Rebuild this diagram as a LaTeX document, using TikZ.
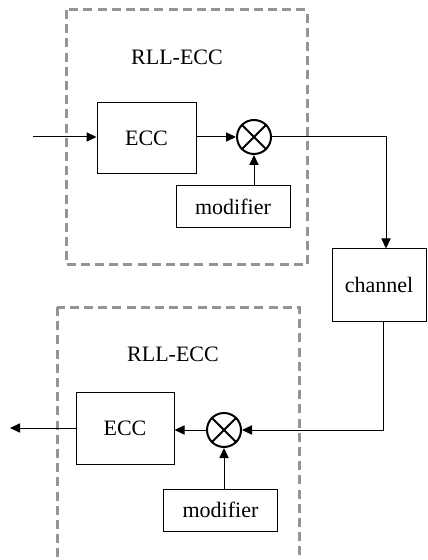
\documentclass[tikz,border=0pt]{standalone}
\usepackage{fontspec}
\setmainfont{Liberation Serif}
\usetikzlibrary{arrows.meta,positioning}

\begin{document}
\begin{tikzpicture}[x=0.5pt,y=-0.5pt,
            font=\fontsize{11}{13}\selectfont,
            >={Triangle[length=5pt,width=4.6pt]},
            every node/.style = {shape=rectangle, draw, line width=0.5pt,
                                 align=center, inner sep=0pt},
            blockbox/.style = {minimum width=49.5pt, minimum height=35.5pt},
            modbox/.style = {minimum width=57pt, minimum height=21pt},
            mixer/.style = {shape=circle, line width=1pt, minimum size=17pt},
            plain/.style = {draw=none},
            groupbox/.style = {draw=black!42, line width=1.5pt,
                               dash pattern=on 4.5pt off 2.6pt},
            wire/.style = {line width=0.5pt}]
    \useasboundingbox (0,0) rectangle (427,560);
    \clip (0,0) rectangle (427,560);
    % encoder side
    \draw[groupbox] (66,10) rectangle (307,265);
    \node[plain] (title1) at (177,57) {RLL-ECC};
    \node[blockbox] (ecc1) at (146.5,138) {ECC};
    \node[mixer] (mix1) at (254,137) {};
    \draw[line width=1pt] (mix1.45) -- (mix1.225) (mix1.135) -- (mix1.315);
    \node[modbox] (mod1) at (233,207) {modifier};
    \coordinate (in) at (33,137);
    % channel
    \node[minimum width=47pt, minimum height=36pt] (chan) at (379,285) {channel};
    % decoder side
    \draw[groupbox] (57,307) rectangle (299,580);
    \node[plain] (title2) at (173,354) {RLL-ECC};
    \node[blockbox, minimum width=49pt, minimum height=36pt] (ecc2) at (125,428) {ECC};
    \node[mixer] (mix2) at (224,430) {};
    \draw[line width=1pt] (mix2.45) -- (mix2.225) (mix2.135) -- (mix2.315);
    \node[modbox] (mod2) at (220.5,510) {modifier};
    \coordinate (out) at (10,428);
    % connections
    \draw[wire,->] (in) -- (ecc1.west |- in);
    \draw[wire,->] (ecc1.east |- mix1) -- (mix1.west);
    \draw[wire,->] (mix1 |- mod1.north) -- (mix1.south);
    \draw[wire,->] (mix1.east) -| ([xshift=3.5pt]chan.north);
    \draw[wire,->] ([xshift=2pt]chan.south) |- (mix2.east);
    \draw[wire,->] (mix2.west) -- (ecc2.east |- mix2);
    \draw[wire,->] (mix2 |- mod2.north) -- (mix2.south);
    \draw[wire,->] (ecc2.west) -- (out);
\end{tikzpicture}
\end{document}
